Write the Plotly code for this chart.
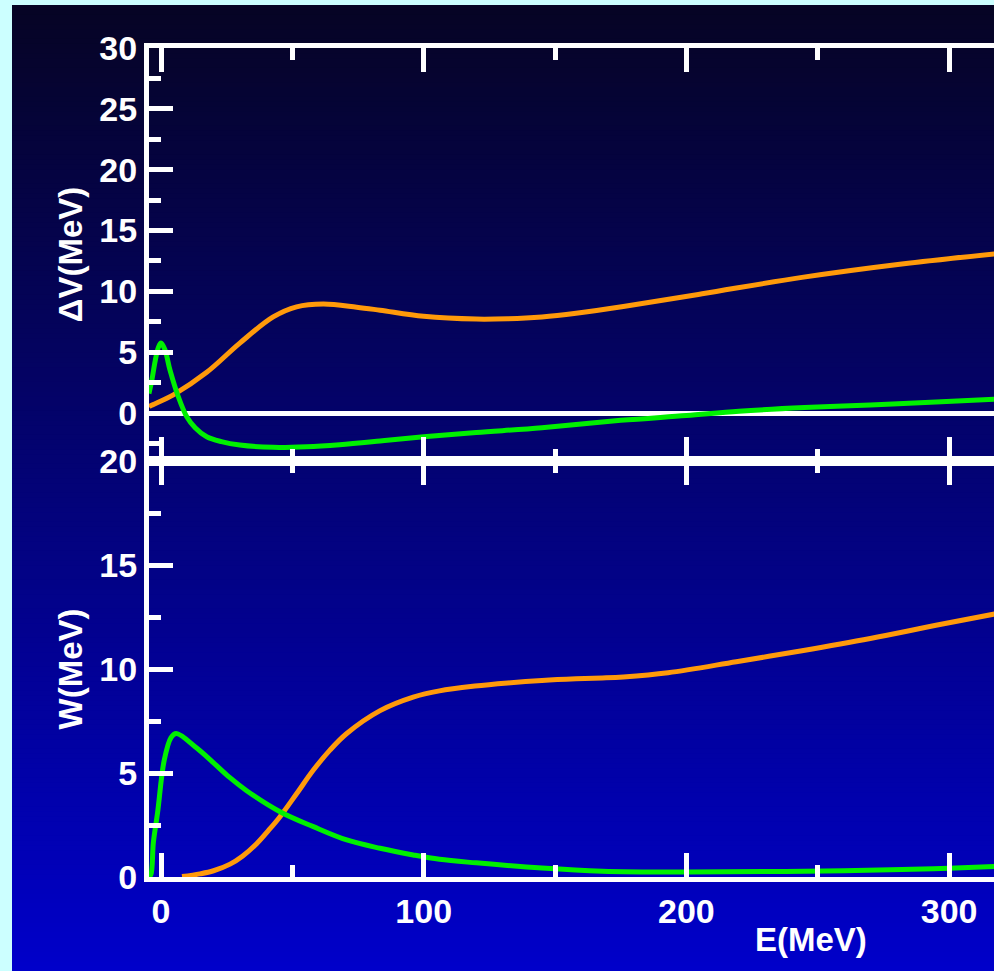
import plotly.graph_objects as go
from plotly.subplots import make_subplots

# ---------------- data ----------------
# Top panel: Delta V (MeV) vs E (MeV)
dv_orange_E = [-4.6, -4.2, 4.7, 17.4, 30, 42.7, 51.6, 61.8, 74.5, 83.4, 100, 120, 132, 145, 158, 176, 206, 244, 282, 318]
dv_orange_V = [0.5, 0.57, 1.5, 3.35, 5.75, 7.9, 8.73, 8.96, 8.7, 8.45, 7.95, 7.72, 7.75, 7.9, 8.2, 8.75, 9.8, 11.15,
               12.25, 13.1]

dv_green_E = [-4.6, -3.5, -2.2, -1.0, 0.0, 1.5, 3.4, 6.6, 9.8, 13, 17.4, 23, 30, 42.7, 55.5, 68, 83.4, 100, 120,
              145, 175, 200, 220, 245, 270, 295, 318]
dv_green_V = [1.6, 2.7, 4.3, 5.4, 5.75, 5.2, 3.55, 1.34, -0.3, -1.2, -1.95, -2.35, -2.63, -2.82, -2.77, -2.6, -2.3,
              -1.95, -1.6, -1.2, -0.6, -0.2, 0.15, 0.45, 0.66, 0.9, 1.15]

# Bottom panel: W (MeV) vs E (MeV)
w_orange_E = [8, 14.8, 20, 26.3, 31, 36.4, 41, 45.3, 51.6, 58, 64.3, 70.7, 83.4, 96, 106, 119.5, 132, 145, 158, 168,
              176, 193, 219, 244, 270, 295, 318]
w_orange_W = [0.02, 0.15, 0.3, 0.62, 1.0, 1.6, 2.25, 2.9, 4.0, 5.14, 6.1, 6.9, 8.0, 8.65, 8.95, 9.18, 9.33, 9.45,
              9.53, 9.57, 9.62, 9.82, 10.35, 10.88, 11.47, 12.1, 12.66]

w_green_E = [-4.6, -3.8, -2.9, -1.3, 1.2, 3.8, 5.8, 13.6, 19.9, 26, 32.6, 45.3, 58, 70.7, 83.4, 96, 106, 120, 145,
             168, 200, 231, 260, 282, 300, 318]
w_green_W = [0.0, 0.14, 1.67, 3.1, 5.6, 6.7, 6.9, 6.2, 5.5, 4.8, 4.15, 3.14, 2.42, 1.78, 1.38, 1.06, 0.85, 0.68, 0.43,
             0.28, 0.24, 0.26, 0.3, 0.36, 0.42, 0.51]

x_range = [-4.57, 317.1]
dv_range = [-3.94, 30]
w_range = [0, 20]

x_title = "E(MeV)"
dv_title = "ΔV(MeV)"
w_title = "W(MeV)"

ORANGE = "#ff9a0a"
GREEN = "#00f000"

# ---------------- figure ----------------
W_PX, H_PX = 994, 971
ML, MR, MT, MB = 149, 0, 48, 94
plot_w = W_PX - ML - MR
plot_h = H_PX - MT - MB

fig = make_subplots(rows=2, cols=1, shared_xaxes=True, vertical_spacing=0,
                    row_heights=[413, 416])

line_kw = dict(shape="spline", smoothing=1.0, width=5)
fig.add_trace(go.Scatter(x=dv_orange_E, y=dv_orange_V, mode="lines",
                         line=dict(color=ORANGE, **line_kw), showlegend=False), row=1, col=1)
fig.add_trace(go.Scatter(x=dv_green_E, y=dv_green_V, mode="lines",
                         line=dict(color=GREEN, **line_kw), showlegend=False), row=1, col=1)
fig.add_trace(go.Scatter(x=w_orange_E, y=w_orange_W, mode="lines",
                         line=dict(color=ORANGE, **line_kw), showlegend=False), row=2, col=1)
fig.add_trace(go.Scatter(x=w_green_E, y=w_green_W, mode="lines",
                         line=dict(color=GREEN, **line_kw), showlegend=False), row=2, col=1)

FONT = "Liberation Sans, Arial, sans-serif"
tickfont = dict(family=FONT, size=34, color="white", weight="bold")
titlefont = dict(family=FONT, size=33, color="white", weight="bold")

axis_common = dict(showline=True, linecolor="white", linewidth=5,
                   ticks="inside", ticklen=24, tickwidth=5, tickcolor="white",
                   showgrid=False, tickfont=tickfont)

xcommon = dict(axis_common, range=x_range, tick0=0, dtick=100, mirror="ticks", zeroline=False,
               minor=dict(ticks="inside", ticklen=12, tickwidth=5, tickcolor="white", tick0=0, dtick=50))
fig.update_xaxes(**xcommon, showticklabels=False, row=1, col=1)
fig.update_xaxes(**xcommon, showticklabels=True, row=2, col=1)

ycommon = dict(axis_common, tick0=0, dtick=5, mirror=False,
               minor=dict(ticks="inside", ticklen=12, tickwidth=5, tickcolor="white", tick0=0, dtick=2.5))
fig.update_yaxes(**ycommon, range=dv_range, zeroline=True, zerolinecolor="white", zerolinewidth=5,
                 title=dict(text=dv_title, font=titlefont, standoff=8), row=1, col=1)
fig.update_yaxes(**ycommon, range=w_range, zeroline=False,
                 title=dict(text=w_title, font=titlefont, standoff=8), row=2, col=1)

# background gradient (dark navy at top -> blue at bottom), cyan frame outside
shapes = []
top_px, bot_px = 5, H_PX
left_px = 12
n_bands = 200
c_top = (6, 4, 36)
c_bot = (0, 0, 202)
for i in range(n_bands):
    p0 = top_px + (bot_px - top_px) * i / n_bands
    p1 = top_px + (bot_px - top_px) * (i + 1) / n_bands + 1.0
    t = (i + 0.5) / n_bands
    c = tuple(round(a + (b - a) * t) for a, b in zip(c_top, c_bot))
    shapes.append(dict(type="rect", xref="paper", yref="paper", layer="below",
                       x0=(left_px - ML) / plot_w, x1=(W_PX + 5 - ML) / plot_w,
                       y0=(H_PX - MB - min(p1, H_PX + 5)) / plot_h, y1=(H_PX - MB - p0) / plot_h,
                       line=dict(width=0), fillcolor="rgb(%d,%d,%d)" % c))

fig.update_layout(
    width=W_PX, height=H_PX,
    margin=dict(l=ML, r=MR, t=MT, b=MB, pad=0),
    paper_bgcolor="#ccffff",
    plot_bgcolor="rgba(0,0,0,0)",
    shapes=shapes,
    showlegend=False,
    annotations=[dict(text=x_title, xref="paper", yref="paper",
                      x=(811 - ML) / plot_w, y=(H_PX - MB - 939) / plot_h,
                      xanchor="center", yanchor="middle", showarrow=False, font=titlefont)],
)

fig.write_html("out.html", config={"displayModeBar": False},
               post_script="document.body.style.margin='0';document.body.style.overflow='hidden';")
